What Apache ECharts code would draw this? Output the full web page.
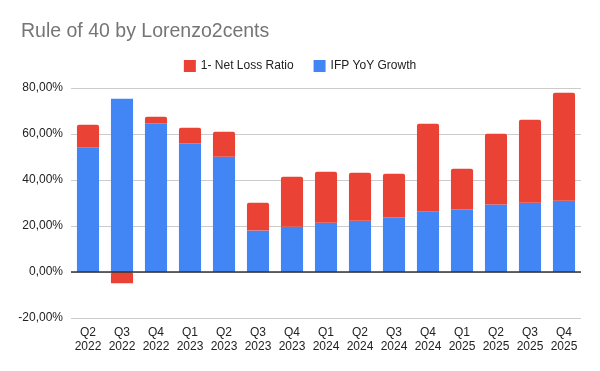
<!DOCTYPE html>
<html><head><meta charset="utf-8">
<script src="https://cdn.jsdelivr.net/npm/echarts@6/dist/echarts.min.js"></script>
<style>html,body{margin:0;padding:0;background:#fff}#c{width:600px;height:371px}</style>
</head><body><div id="c"></div>
<script>
var categories = ['Q2\n2022','Q3\n2022','Q4\n2022','Q1\n2023','Q2\n2023','Q3\n2023','Q4\n2023','Q1\n2024','Q2\n2024','Q3\n2024','Q4\n2024','Q1\n2025','Q2\n2025','Q3\n2025','Q4\n2025'];
var ifpGrowth = [54.2, 75.3, 64.6, 55.9, 50.1, 18.0, 19.7, 21.4, 22.3, 23.7, 26.4, 27.2, 29.3, 30.1, 31.0];
var netLossRatio = [9.8, -4.9, 2.9, 6.8, 10.9, 12.1, 21.7, 22.2, 20.9, 19.0, 38.1, 17.7, 30.8, 36.1, 46.9];
var yTicks = {min: -20, max: 80, interval: 20};

var chart = echarts.init(document.getElementById('c'), null, {renderer: 'canvas'});
chart.setOption({
  animation: false,
  textStyle: {fontFamily: 'Liberation Sans, Arial, sans-serif'},
  title: {text: 'Rule of 40 by Lorenzo2cents', left: 16, top: 17,
    textStyle: {color: '#757575', fontSize: 19.5, fontWeight: 'normal', fontFamily: 'Liberation Sans, Arial, sans-serif'}},
  legend: {data: ['1- Net Loss Ratio', 'IFP YoY Growth'], top: 55, left: 'center',
    icon: 'rect', itemWidth: 12, itemHeight: 12, itemGap: 20,
    textStyle: {color: '#222', fontSize: 12}},
  grid: {left: 71, right: 19, top: 88, bottom: 53, containLabel: false},
  xAxis: {type: 'category', data: categories,
    axisLine: {show: false}, axisTick: {show: false},
    axisLabel: {color: '#222', fontSize: 12, interval: 0, lineHeight: 14, margin: 8}},
  yAxis: {type: 'value', min: yTicks.min, max: yTicks.max, interval: yTicks.interval,
    axisLine: {show: false}, axisTick: {show: false},
    splitLine: {lineStyle: {color: '#cccccc', width: 1}},
    axisLabel: {color: '#222', fontSize: 12, margin: 8,
      formatter: function(v){ return v.toFixed(2).replace('.', ',') + '%'; }}},
  series: [
    {name: 'IFP YoY Growth', type: 'bar', stack: 's', data: ifpGrowth,
      barCategoryGap: '35%', itemStyle: {color: '#4285f4'},
      markLine: {silent: true, symbol: 'none', label: {show: false},
        lineStyle: {color: '#333', width: 1.5, type: 'solid'}, data: [{yAxis: 0}]}},
    {name: '1- Net Loss Ratio', type: 'bar', stack: 's', data: netLossRatio,
      barCategoryGap: '35%', itemStyle: {color: '#ea4335', borderRadius: [2, 2, 0, 0]}}
  ]
});
</script></body></html>
